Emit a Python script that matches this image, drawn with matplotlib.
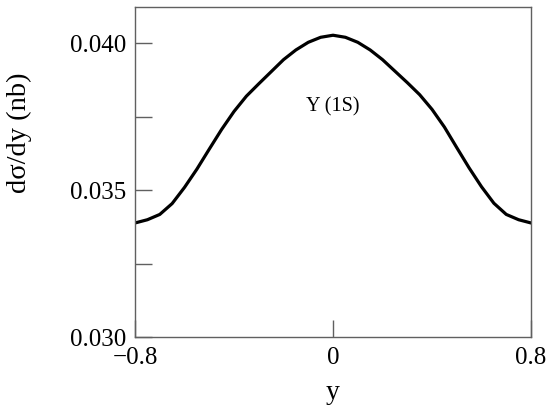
import numpy as np
import matplotlib.pyplot as plt

# rapidity values and d sigma / dy
rapidity = [-0.80, -0.75, -0.70, -0.65, -0.60, -0.55, -0.50, -0.45, -0.40,
            -0.35, -0.30, -0.25, -0.20, -0.15, -0.10, -0.05, 0.00,
            0.05, 0.10, 0.15, 0.20, 0.25, 0.30, 0.35, 0.40,
            0.45, 0.50, 0.55, 0.60, 0.65, 0.70, 0.75, 0.80]
dsigma = [0.03389, 0.03400, 0.03418, 0.03455, 0.03510, 0.03572, 0.03640, 0.03707, 0.03768,
          0.03820, 0.03862, 0.03903, 0.03944, 0.03977, 0.04003, 0.04020, 0.04027,
          0.04020, 0.04003, 0.03977, 0.03944, 0.03905, 0.03866, 0.03825, 0.03775,
          0.03715, 0.03645, 0.03576, 0.03512, 0.03456, 0.03418, 0.03400, 0.03389]

plt.rcParams['font.family'] = ['Liberation Serif', 'DejaVu Serif']

fig = plt.figure(figsize=(5.5, 4.11), dpi=100)
ax = fig.add_axes([0.2455, 0.179, 0.72, 0.804])

ax.plot(rapidity, dsigma, color='black', lw=2.3, solid_joinstyle='round')

ax.set_xlim(-0.8, 0.8)
ax.set_ylim(0.030, 0.04123)
ax.set_xticks([-0.8, 0, 0.8])
ax.set_xticklabels(['\u22120.8', '0', '0.8'])
ax.set_yticks([0.030, 0.035, 0.040])
ax.set_yticklabels(['0.030', '0.035', '0.040'])
ax.set_yticks([0.0325, 0.0375], minor=True)

for s in ax.spines.values():
    s.set_color('#606060')
    s.set_linewidth(1.0)
ax.tick_params(axis='both', which='both', direction='in', length=12, width=1,
               color='#606060', labelsize=18, top=False, right=False)
ax.tick_params(axis='x', pad=7)
ax.tick_params(axis='y', pad=6)

ax.text(0, 0.03782, '\u03a5 (1S)', ha='center', va='center', fontsize=14.5)
ax.set_xlabel('y', fontsize=20)
ax.xaxis.set_label_coords(0.5, -0.13)
ax.set_ylabel('d\u03c3/dy (nb)', fontsize=20.5)
ax.yaxis.set_label_coords(-0.26, 0.618)

fig.savefig('out.png', dpi=100)
